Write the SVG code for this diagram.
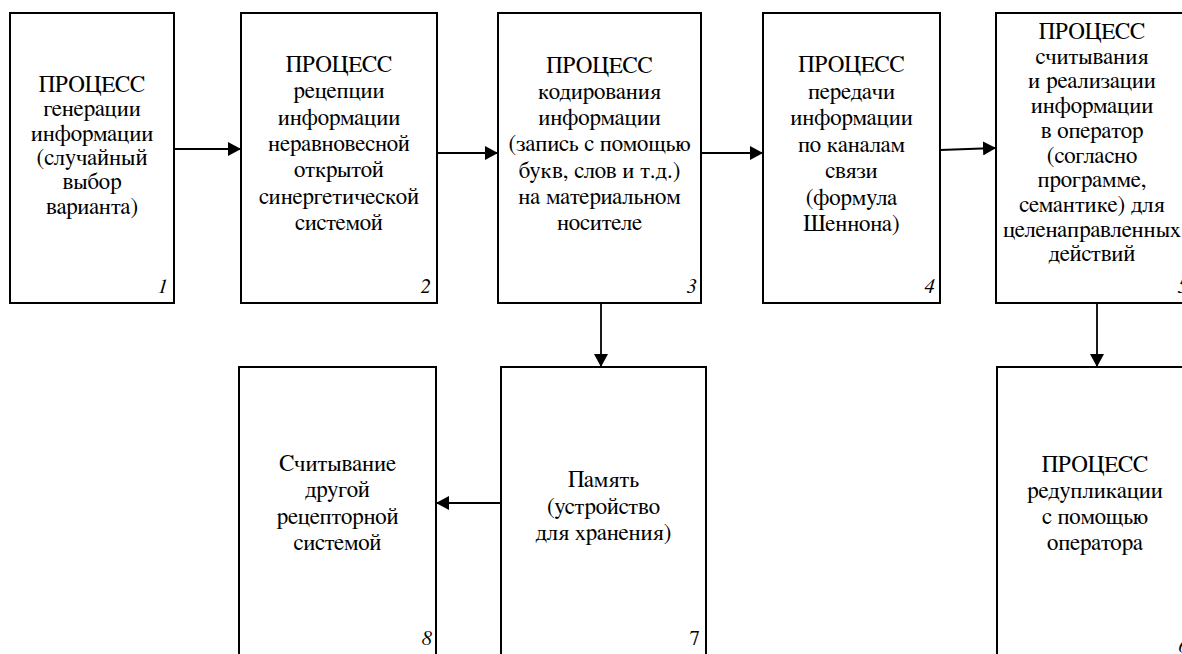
<svg xmlns="http://www.w3.org/2000/svg" width="1182" height="654" viewBox="0 0 1182 654">
<defs>
<style>
.box{fill:#fff;stroke:#000;stroke-width:2}
.t{font-family:FreeSerif,'DejaVu Serif',serif;font-size:23px;fill:#000;text-anchor:middle}
.n{font-family:FreeSerif,'DejaVu Serif',serif;font-size:21px;font-style:italic;fill:#000;text-anchor:end}
.nu{font-family:FreeSerif,'DejaVu Serif',serif;font-size:21px;fill:#000;text-anchor:end}
.c{stroke:#000;stroke-width:1.8;fill:none;marker-end:url(#ah)}
</style>
<marker id="ah" viewBox="0 0 13 14" refX="13" refY="7" markerWidth="13" markerHeight="14" markerUnits="userSpaceOnUse" orient="auto">
<path d="M0,0 L13,7 L0,14 Z" fill="#000"/>
</marker>
</defs>
<rect width="1182" height="654" fill="#fff"/>
<g id="connectors">
<line class="c" x1="174" y1="149" x2="241" y2="149"/>
<line class="c" x1="437" y1="153" x2="498" y2="153"/>
<line class="c" x1="701" y1="153" x2="763" y2="153"/>
<line class="c" x1="940" y1="150" x2="996" y2="148"/>
<line class="c" x1="601" y1="303" x2="601" y2="367"/>
<line class="c" x1="501" y1="503" x2="436" y2="503"/>
<line class="c" x1="1097" y1="303" x2="1097" y2="367"/>
</g>
<g id="node1">
<rect class="box" x="10" y="13" width="164" height="290"/>
<text class="t"><tspan x="92" y="92">ПРОЦЕСС</tspan><tspan x="92" y="116.3">генерации</tspan><tspan x="92" y="140.6">информации</tspan><tspan x="92" y="164.9">(случайный</tspan><tspan x="92" y="189.2">выбор</tspan><tspan x="92" y="213.5">варианта)</tspan></text>
<text class="n" x="168" y="293">1</text>
</g>
<g id="node2">
<rect class="box" x="241" y="13" width="196" height="290"/>
<text class="t"><tspan x="339" y="72">ПРОЦЕСС</tspan><tspan x="339" y="98.3">рецепции</tspan><tspan x="339" y="124.6">информации</tspan><tspan x="339" y="150.9">неравновесной</tspan><tspan x="339" y="177.2">открытой</tspan><tspan x="339" y="203.5">синергетической</tspan><tspan x="339" y="229.8">системой</tspan></text>
<text class="n" x="431" y="293">2</text>
</g>
<g id="node3">
<rect class="box" x="498" y="13" width="203" height="290"/>
<text class="t"><tspan x="599.5" y="72.5">ПРОЦЕСС</tspan><tspan x="599.5" y="98.8">кодирования</tspan><tspan x="599.5" y="125.1">информации</tspan><tspan x="599.5" y="151.4">(запись с помощью</tspan><tspan x="599.5" y="177.7">букв, слов и т.д.)</tspan><tspan x="599.5" y="204">на материальном</tspan><tspan x="599.5" y="230.3">носителе</tspan></text>
<text class="n" x="697" y="293">3</text>
</g>
<g id="node4">
<rect class="box" x="763" y="13" width="177" height="290"/>
<text class="t"><tspan x="851.5" y="72">ПРОЦЕСС</tspan><tspan x="851.5" y="98.5">передачи</tspan><tspan x="851.5" y="125">информации</tspan><tspan x="851.5" y="151.5">по каналам</tspan><tspan x="851.5" y="178">связи</tspan><tspan x="851.5" y="204.5">(формула</tspan><tspan x="851.5" y="231">Шеннона)</tspan></text>
<text class="n" x="935" y="293">4</text>
</g>
<g id="node5">
<rect class="box" x="996" y="13" width="196" height="290"/>
<text class="t"><tspan x="1092" y="39">ПРОЦЕСС</tspan><tspan x="1092" y="63.7">считывания</tspan><tspan x="1092" y="88.4">и реализации</tspan><tspan x="1092" y="113.1">информации</tspan><tspan x="1092" y="137.8">в оператор</tspan><tspan x="1092" y="162.5">(согласно</tspan><tspan x="1092" y="187.2">программе,</tspan><tspan x="1092" y="211.9">семантике) для</tspan><tspan x="1092" y="236.6">целенаправленных</tspan><tspan x="1092" y="261.3">действий</tspan></text>
<text class="n" x="1188" y="293">5</text>
</g>
<g id="node6">
<rect class="box" x="997" y="367" width="196" height="310"/>
<text class="t"><tspan x="1095" y="472">ПРОЦЕСС</tspan><tspan x="1095" y="498">редупликации</tspan><tspan x="1095" y="524">с помощью</tspan><tspan x="1095" y="550">оператора</tspan></text>
<text class="n" x="1189" y="653">6</text>
</g>
<g id="node7">
<rect class="box" x="501" y="367" width="205" height="310"/>
<text class="t"><tspan x="603.5" y="487">Память</tspan><tspan x="603.5" y="513.5">(устройство</tspan><tspan x="603.5" y="540">для хранения)</tspan></text>
<text class="nu" x="700" y="645">7</text>
</g>
<g id="node8">
<rect class="box" x="239" y="367" width="197" height="310"/>
<text class="t"><tspan x="337.5" y="471">Считывание</tspan><tspan x="337.5" y="497">другой</tspan><tspan x="337.5" y="523.5">рецепторной</tspan><tspan x="337.5" y="550">системой</tspan></text>
<text class="n" x="432" y="645">8</text>
</g>
</svg>
